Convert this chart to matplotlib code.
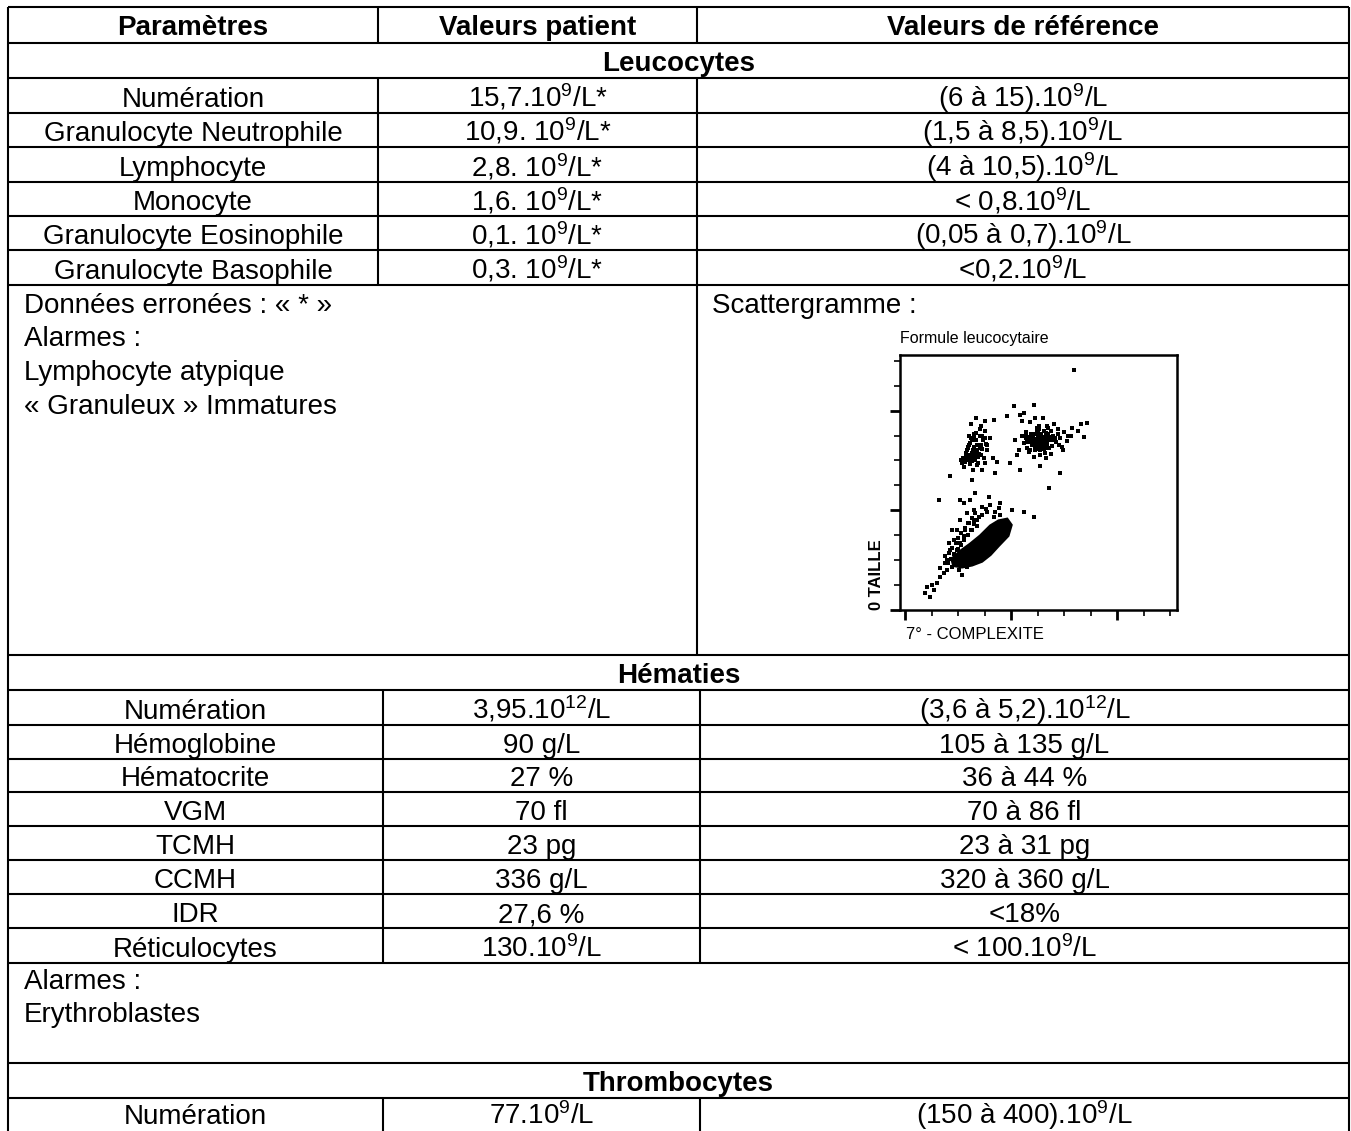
import numpy as np
import matplotlib.pyplot as plt
from matplotlib.ticker import MultipleLocator, FixedLocator

plt.rcParams['font.family'] = ['Liberation Sans', 'DejaVu Sans']
plt.rcParams['mathtext.fontset'] = 'custom'
plt.rcParams['mathtext.rm'] = 'Liberation Sans'
plt.rcParams['mathtext.default'] = 'regular'

# table content
headers = ["Paramètres", "Valeurs patient", "Valeurs de référence"]

leuco_params = ["Numération", "Granulocyte Neutrophile", "Lymphocyte", "Monocyte",
                "Granulocyte Eosinophile", "Granulocyte Basophile"]
leuco_patient = ["15,7.10$^9$/L*", "10,9. 10$^9$/L*", "2,8. 10$^9$/L*", "1,6. 10$^9$/L*",
                 "0,1. 10$^9$/L*", "0,3. 10$^9$/L*"]
leuco_ref = ["(6 à 15).10$^9$/L", "(1,5 à 8,5).10$^9$/L", "(4 à 10,5).10$^9$/L",
             "< 0,8.10$^9$/L", "(0,05 à 0,7).10$^9$/L", "<0,2.10$^9$/L"]
leuco_notes = ["Données erronées : « * »", "Alarmes :", "Lymphocyte atypique",
               "« Granuleux » Immatures"]

hema_params = ["Numération", "Hémoglobine", "Hématocrite", "VGM", "TCMH", "CCMH",
               "IDR", "Réticulocytes"]
hema_patient = ["3,95.10$^{12}$/L", "90 g/L", "27 %", "70 fl", "23 pg", "336 g/L",
                "27,6 %", "130.10$^9$/L"]
hema_ref = ["(3,6 à 5,2).10$^{12}$/L", "105 à 135 g/L", "36 à 44 %", "70 à 86 fl",
            "23 à 31 pg", "320 à 360 g/L", "<18%", "< 100.10$^9$/L"]
hema_notes = ["Alarmes :", "Erythroblastes"]

thrombo_params = ["Numération"]
thrombo_patient = ["77.10$^9$/L"]
thrombo_ref = ["(150 à 400).10$^9$/L"]

# scattergram (complexity, size)
neu_x = [455, 470, 480, 492, 500, 508, 515, 525, 535, 545, 460, 475, 488, 497, 505, 512,
         522, 530, 540, 552, 448, 465, 483, 494, 503, 518, 528, 538, 558, 570, 430, 442,
         420, 585, 600, 615, 630, 650, 662, 590, 610, 575, 560, 440, 415, 470, 490, 510,
         530, 548, 505, 485, 520, 500, 478, 455, 540, 565, 595, 625, 468, 512, 495, 535,
         482, 525, 505, 545, 460, 515,
         472, 488, 502, 518, 532, 548, 462, 478, 495, 510, 526, 542, 556, 485, 500, 515,
         530, 470, 490, 508, 524, 540, 455, 575, 580, 505, 520, 495, 535, 550]
neu_y = [690, 672, 700, 660, 685, 650, 676, 695, 662, 680, 650, 705, 640, 720, 668, 705,
         645, 712, 690, 658, 668, 632, 682, 645, 700, 665, 628, 730, 700, 672, 640, 700,
         620, 690, 715, 700, 730, 720, 745, 655, 678, 725, 745, 760, 680, 755, 770, 620,
         610, 625, 740, 615, 772, 655, 660, 715, 648, 690, 640, 700, 685, 690, 675, 670,
         665, 682, 700, 695, 678, 660,
         695, 705, 690, 680, 700, 690, 675, 660, 670, 655, 665, 650, 680, 685, 710, 690,
         675, 640, 650, 640, 718, 705, 702, 705, 660, 725, 650, 732, 740, 720]
mono_x = [215, 225, 235, 245, 255, 262, 270, 278, 288, 298, 220, 232, 242, 252, 260, 268,
          280, 292, 305, 318, 228, 240, 250, 258, 275, 285, 300, 212, 248, 265, 282, 310,
          330, 345, 240, 270, 290, 255, 235, 300, 225, 262, 246,
          230, 238, 250, 262, 272, 284, 218, 244, 256, 268, 280, 226, 236, 290, 300, 310,
          260, 248, 274, 286]
mono_y = [590, 605, 620, 585, 640, 600, 660, 625, 645, 610, 575, 640, 660, 680, 690, 710,
          700, 680, 665, 690, 620, 600, 630, 655, 615, 740, 760, 600, 745, 770, 725, 640,
          610, 595, 700, 580, 560, 560, 650, 720, 598, 628, 612,
          630, 612, 598, 612, 640, 660, 610, 670, 625, 682, 648, 592, 655, 700, 690, 660,
          705, 690, 590, 620]
sparse_x = [409, 484, 434, 384, 333, 585, 541, 447, 302, 340, 252, 170, 434, 396, 484,
            447, 402, 358, 314, 264, 126, 635, 686, 673, 509]
sparse_y = [817, 823, 783, 777, 763, 549, 489, 790, 589, 549, 522, 536, 562, 589, 375,
            395, 402, 428, 455, 469, 442, 964, 750, 696, 576]
lym_x = [220, 245, 233, 208, 258, 195, 226, 182, 208, 170, 189, 157, 176, 145, 201, 233,
         258, 277, 289, 308, 333, 358, 208, 239, 220, 164, 195, 252, 270, 176, 151, 132,
         220, 245, 214, 75, 94, 107, 132, 157, 120, 82, 101,
         165, 178, 190, 200, 212, 225, 238, 250, 262, 150, 160, 172, 185, 198, 210, 222,
         236, 248, 260, 272, 290, 305, 320, 340, 355]
lym_y = [428, 442, 388, 362, 362, 321, 321, 281, 268, 241, 214, 201, 174, 147, 161, 174,
         402, 375, 415, 395, 375, 382, 442, 348, 295, 268, 241, 321, 335, 321, 188, 167,
         201, 187, 141, 67, 53, 80, 134, 161, 107, 94, 100,
         230, 250, 270, 290, 310, 330, 350, 370, 390, 215, 190, 205, 225, 245, 262, 280,
         300, 320, 345, 360, 380, 405, 420, 395, 410]
blob_x = [175, 210, 245, 283, 321, 352, 384, 400, 388, 352, 321, 289, 252, 214, 182]
blob_y = [205, 238, 265, 298, 338, 358, 365, 341, 298, 258, 222, 195, 180, 172, 178]

W, H = 1351, 1131
fig = plt.figure(figsize=(W / 100, H / 100), dpi=100)
ax = fig.add_axes([0, 0, 1, 1])
ax.set_xlim(0, W)
ax.set_ylim(H, 0)
ax.axis('off')

lw = 1.5
fs = 20
x_l, x_r = 8, 1349
c1a, c2a = 378, 697     # leucocytes columns
c1b, c2b = 383, 700     # hematies / thrombo columns

def hline(y, x0=x_l, x1=x_r):
    ax.plot([x0, x1], [y, y], 'k-', lw=lw, solid_capstyle='butt')

def vline(x, y0, y1):
    ax.plot([x, x], [y0, y1], 'k-', lw=lw, solid_capstyle='butt')

def row_text(y, texts, cols, bold=False):
    edges = [x_l] + cols + [x_r]
    for i, t in enumerate(texts):
        xc = (edges[i] + edges[i + 1]) / 2
        ax.text(xc, y, t, ha='center', va='baseline', fontsize=fs,
                fontweight='bold' if bold else 'normal')

def section_title(y1, t):
    ax.text((x_l + x_r) / 2, y1 - 7, t, ha='center', va='baseline',
            fontsize=fs, fontweight='bold')

# header
y_top = 7
hline(y_top)
hline(43)
vline(c1a, y_top, 43)
vline(c2a, y_top, 43)
row_text(35, headers, [c1a, c2a], bold=True)

# leucocytes
section_title(78, "Leucocytes")
leuco_lines = [78, 113, 147, 182, 216, 250, 285]
for k in range(len(leuco_params)):
    y0, y1 = leuco_lines[k], leuco_lines[k + 1]
    hline(y0)
    vline(c1a, y0, y1)
    vline(c2a, y0, y1)
    row_text(y1 - 6, [leuco_params[k], leuco_patient[k], leuco_ref[k]], [c1a, c2a])
hline(285)
vline(c2a, 285, 655)
for k, t in enumerate(leuco_notes):
    ax.text(24, 313 + k * 33.5, t, ha='left', va='baseline', fontsize=fs)
ax.text(712, 313, "Scattergramme :", ha='left', va='baseline', fontsize=fs)

# hematies
hline(655)
section_title(690, "Hématies")
hema_lines = [690, 725, 759, 792, 826, 860, 894, 928, 963]
for k in range(len(hema_params)):
    y0, y1 = hema_lines[k], hema_lines[k + 1]
    hline(y0)
    vline(c1b, y0, y1)
    vline(c2b, y0, y1)
    row_text(y1 - 6, [hema_params[k], hema_patient[k], hema_ref[k]], [c1b, c2b])
hline(963)
for k, t in enumerate(hema_notes):
    ax.text(24, 989 + k * 33.5, t, ha='left', va='baseline', fontsize=fs)

# thrombocytes
hline(1063)
section_title(1098, "Thrombocytes")
hline(1098)
for k in range(len(thrombo_params)):
    vline(c1b, 1098, H)
    vline(c2b, 1098, H)
    row_text(1124, [thrombo_params[k], thrombo_patient[k], thrombo_ref[k]], [c1b, c2b])

vline(x_l, y_top, H)
vline(x_r, y_top, H)

# scattergram inset
axs = fig.add_axes([900 / W, 1 - 610 / H, 277 / W, 255 / H])
axs.fill(blob_x, blob_y, color='k', lw=2)
for xs, ys in [(neu_x, neu_y), (mono_x, mono_y), (sparse_x, sparse_y), (lym_x, lym_y)]:
    axs.scatter(xs, ys, s=5, marker='s', c='k', linewidths=0)
axs.set_xlim(-20, 1025)
axs.set_ylim(0, 1023)
axs.xaxis.set_major_locator(FixedLocator([0, 400, 800]))
axs.yaxis.set_major_locator(FixedLocator([0, 400, 800]))
axs.xaxis.set_minor_locator(MultipleLocator(100))
axs.yaxis.set_minor_locator(MultipleLocator(100))
axs.tick_params(which='major', direction='out', length=7, width=2, labelbottom=False, labelleft=False)
axs.tick_params(which='minor', direction='out', length=4, width=1.2)
for s in axs.spines.values():
    s.set_linewidth(1.8)
axs.text(0.0, 1.035, "Formule leucocytaire", transform=axs.transAxes, ha='left',
         va='bottom', fontsize=11.5)
axs.text(0.02, -0.065, "7° - COMPLEXITE", transform=axs.transAxes, ha='left',
         va='top', fontsize=12)
axs.text(-0.085, 0.0, "0 TAILLE", transform=axs.transAxes, ha='center',
         va='bottom', rotation=90, fontsize=12, fontweight='bold')

fig.savefig('out.png', dpi=100)
